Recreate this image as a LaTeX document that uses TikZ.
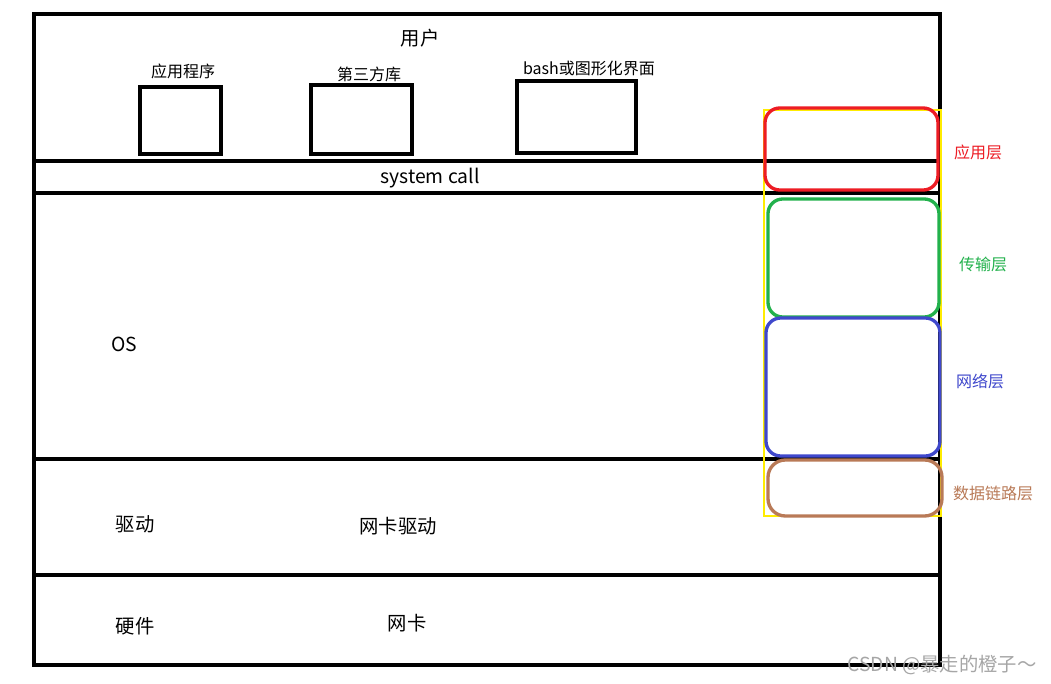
\documentclass[tikz,border=0pt]{standalone}
\usepackage{fontspec}
\setmainfont{Noto Sans CJK SC}
\usetikzlibrary{positioning}
\definecolor{layerred}{RGB}{237,28,36}
\definecolor{layergreen}{RGB}{34,177,76}
\definecolor{layerblue}{RGB}{63,72,204}
\definecolor{layerbrown}{RGB}{185,122,87}
\definecolor{markyellow}{RGB}{255,236,0}

\begin{document}
\begin{tikzpicture}[
  x=0.75pt, y=-0.75pt,
  frame/.style={draw, line width=2.8pt},
  appbox/.style={draw, line width=2.6pt},
  txt/.style={font=\fontsize{14.5}{16}\selectfont, inner sep=0pt},
  small/.style={font=\fontsize{12}{14}\selectfont, inner sep=0pt},
  layer/.style={draw, line width=2.5pt, rounded corners=11pt},
  layerlabel/.style={font=\fontsize{12}{14}\selectfont, inner sep=0pt}
]
\useasboundingbox (0,0) rectangle (1051,684);
\fill[white] (0,0) rectangle (1051,684);

% bands of the system
\draw[frame] (34,14) rectangle (940,665);
\draw[line width=2.6pt] (34,161) -- (940,161);
\draw[frame] (34,193) -- (940,193);
\draw[frame] (34,459) -- (940,459);
\draw[frame] (34,575) -- (940,575);

% user space
\node[txt] (user) at (420,38) {用户};
\draw[appbox] (140,87) rectangle (221,154);
\draw[appbox] (311,85) rectangle (412,154);
\draw[appbox] (517,81) rectangle (636,153);
\node[small] (app) at (183,71) {应用程序};
\node[small] (lib) at (369,74) {第三方库};
\node[small] (shell) at (589,68) {bash或图形化界面};

\node[txt] (syscall) at (430,178) {system call};
\node[txt] (os) at (124,344) {OS};
\node[txt] (drv) at (135,524) {驱动};
\node[txt] (nicdrv) at (398,526) {网卡驱动};
\node[txt] (hw) at (135,626) {硬件};
\node[txt] (nic) at (407,623) {网卡};

% protocol layers
\draw[markyellow, line width=2.1pt] (764,110) rectangle (941,516);
\draw[layer, layerred] (765,108) rectangle (938,190);
\draw[layer, layergreen] (768,199) rectangle (939,317);
\draw[layer, layerblue] (766,318) rectangle (940,456);
\draw[layer, layerbrown, rounded corners=13pt] (768,460) rectangle (942,516);

\node[layerlabel, text=layerred] (l5) at (978,152) {应用层};
\node[layerlabel, text=layergreen] (l4) at (983,264) {传输层};
\node[layerlabel, text=layerblue] (l3) at (980,381) {网络层};
\node[layerlabel, text=layerbrown] (l2) at (993,493) {数据链路层};

\node[font=\fontsize{14.5}{16}\selectfont, text=black!35, inner sep=0pt] (mark) at (942,665) {CSDN @暴走的橙子～};
\end{tikzpicture}
\end{document}
